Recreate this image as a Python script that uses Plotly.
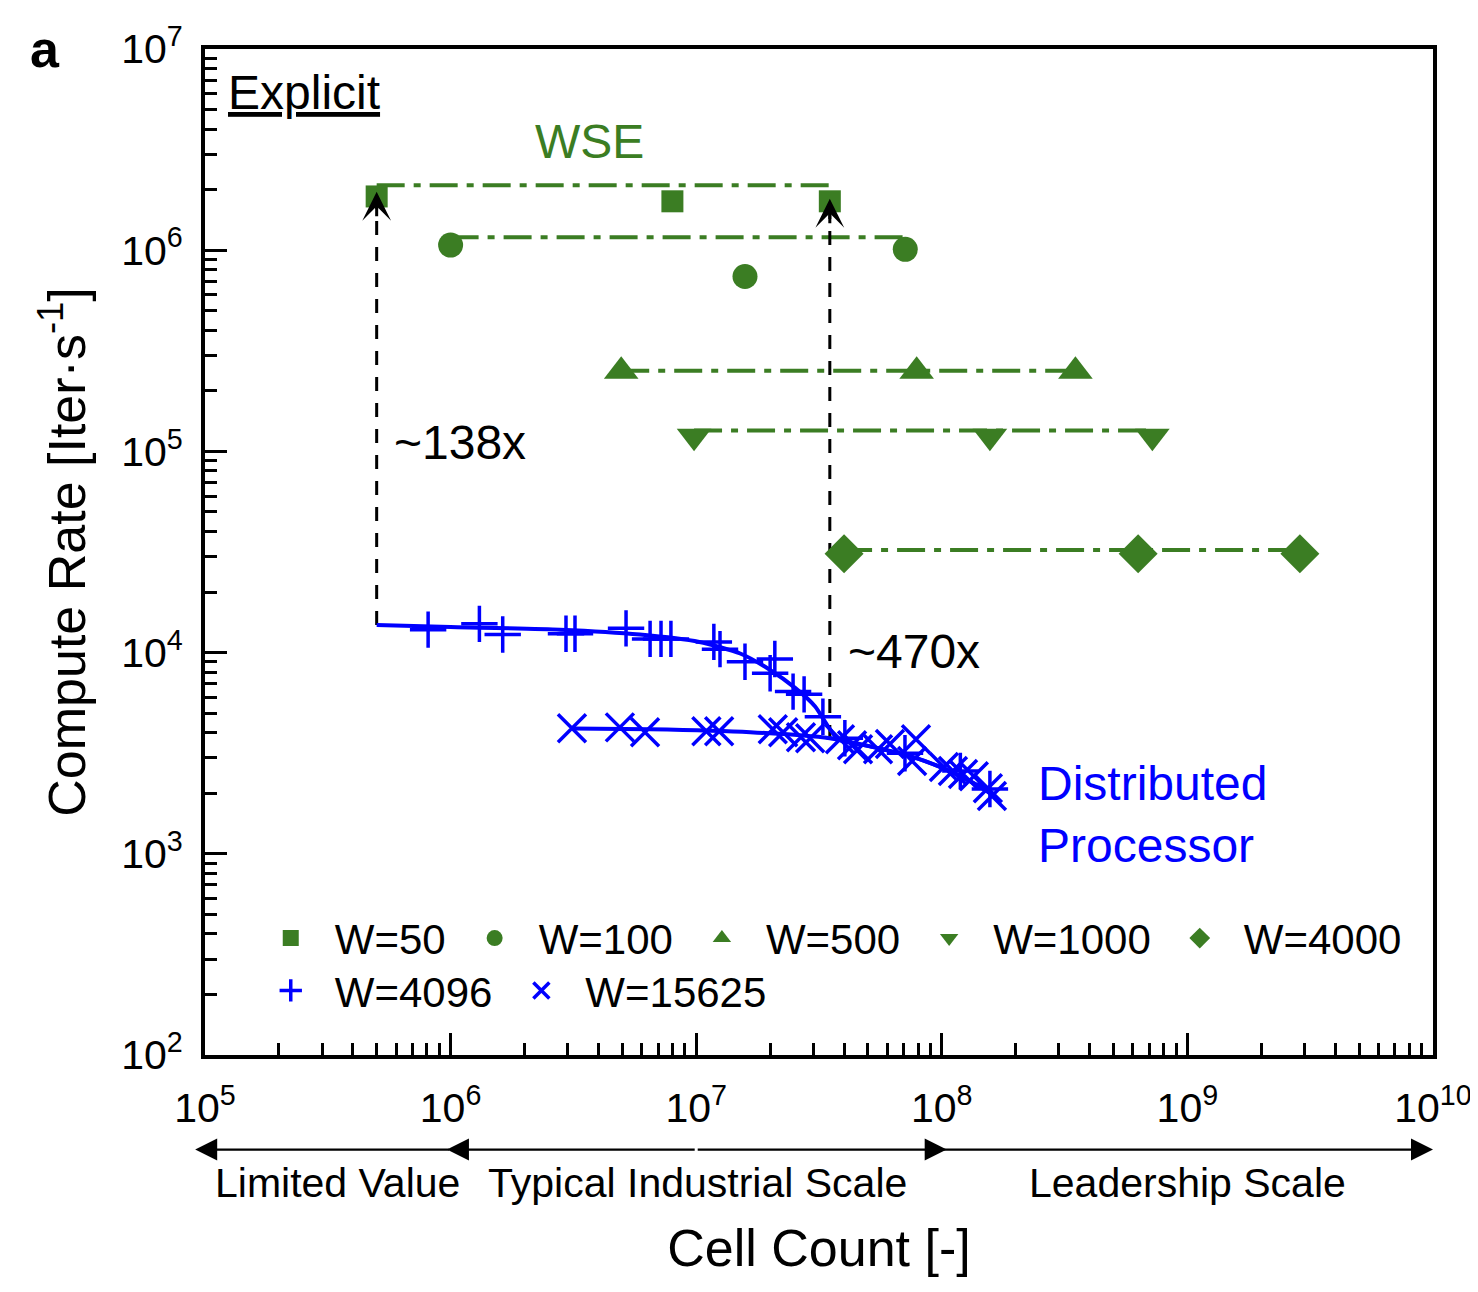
import math

import plotly.graph_objects as go

GREEN = "#3B7D23"
BLUE = "#0000FF"
FONT = "Liberation Sans, Arial, sans-serif"

# --- WSE (green) series: cell count vs compute rate
w50_cells = [5.0e5, 8.0e6, 3.5e7]
w50_rate = [1.85e6, 1.75e6, 1.75e6]
w50_level = 2.1e6

w100_cells = [1.0e6, 1.58e7, 7.1e7]
w100_rate = [1.06e6, 7.4e5, 1.01e6]
w100_level = 1.16e6

w500_cells = [4.95e6, 7.9e7, 3.5e8]
w500_rate = [2.5e5, 2.5e5, 2.5e5]
w500_level = 2.52e5

w1000_cells = [9.8e6, 1.57e8, 7.2e8]
w1000_rate = [1.19e5, 1.19e5, 1.19e5]
w1000_level = 1.27e5

w4000_cells = [4.0e7, 6.3e8, 2.87e9]
w4000_rate = [3.1e4, 3.1e4, 3.1e4]
w4000_level = 3.24e4

# --- distributed processor (blue) series
w4096_cells = [8.1e5, 1.31e6, 1.63e6, 2.95e6, 3.21e6, 5.18e6, 6.49e6, 7.19e6,
               7.89e6, 1.18e7, 1.25e7, 1.58e7, 2.0e7, 2.09e7, 2.48e7, 2.75e7,
               3.28e7, 4.03e7, 7.08e7, 1.19e8, 1.57e8]
w4096_rate = [1.30e4, 1.39e4, 1.23e4, 1.24e4, 1.24e4, 1.32e4, 1.17e4, 1.17e4,
              1.17e4, 1.13e4, 1.04e4, 9.0e3, 7.9e3, 9.3e3, 6.4e3, 6.2e3,
              4.8e3, 3.75e3, 3.16e3, 2.58e3, 2.10e3]
w4096_fit_cells = [5.0e5, 1.0e6, 2.79e6, 5.9e6, 1.03e7, 1.51e7, 2.0e7, 2.52e7,
                   3.05e7, 3.44e7, 3.78e7, 5.1e7, 7.43e7, 1.03e8, 1.30e8, 1.6e8]
w4096_fit_rate = [1.37e4, 1.34e4, 1.30e4, 1.23e4, 1.13e4, 9.9e3, 8.2e3, 6.7e3,
                  5.4e3, 4.3e3, 3.71e3, 3.42e3, 3.06e3, 2.64e3, 2.30e3, 1.98e3]

w15625_cells = [3.12e6, 4.89e6, 6.19e6, 1.10e7, 1.24e7, 2.05e7, 2.26e7, 2.67e7,
                2.91e7, 3.85e7, 4.31e7, 4.56e7, 5.50e7, 6.15e7, 7.85e7, 7.57e7,
                1.02e8, 1.11e8, 1.22e8, 1.35e8, 1.54e8, 1.60e8]
w15625_rate = [4.21e3, 4.25e3, 4.02e3, 4.06e3, 4.06e3, 4.16e3, 4.02e3, 3.80e3,
               3.75e3, 3.71e3, 3.46e3, 3.31e3, 3.31e3, 3.51e3, 3.71e3, 2.89e3,
               2.70e3, 2.58e3, 2.49e3, 2.43e3, 2.12e3, 1.94e3]
w15625_fit_cells = [3.12e6, 6.49e6, 1.66e7, 3.5e7, 5.1e7, 7.43e7, 1.03e8, 1.30e8, 1.6e8]
w15625_fit_rate = [4.2e3, 4.16e3, 4.02e3, 3.75e3, 3.42e3, 3.06e3, 2.64e3, 2.30e3, 1.98e3]

# speed-up arrows: (cell count, tail rate, head rate, label)
speedups = [(5.0e5, 1.37e4, 1.95e6, "~138x"), (3.5e7, 3.72e3, 1.80e6, "~470x")]

x_tick_vals = [1e5, 1e6, 1e7, 1e8, 1e9, 1e10]
x_tick_text = ["10<sup>5</sup>", "10<sup>6</sup>", "10<sup>7</sup>", "10<sup>8</sup>",
               "10<sup>9</sup>", "10<sup>10</sup>"]
y_tick_vals = [1e2, 1e3, 1e4, 1e5, 1e6, 1e7]
y_tick_text = ["10<sup>2</sup>", "10<sup>3</sup>", "10<sup>4</sup>", "10<sup>5</sup>",
               "10<sup>6</sup>", "10<sup>7</sup>"]
x_minor = [k * 10 ** e for e in range(5, 10) for k in range(2, 10)]
y_minor = [k * 10 ** e for e in range(2, 7) for k in range(2, 10)]

# scale bands under the x axis: (tail, head) in log10 cell count
bands = [(6, 4.96), (7, 5.985), (7, 8.02), (8, 10)]
band_labels = ["Limited Value", "Typical Industrial Scale", "Leadership Scale"]
band_label_x = [0.108, 0.4007, 0.800]

fig = go.Figure()

wse = [
    ("W=50", w50_cells, w50_rate, w50_level, "square", 22),
    ("W=100", w100_cells, w100_rate, w100_level, "circle", 25),
    ("W=500", w500_cells, w500_rate, w500_level, "triangle-up", 30),
    ("W=1000", w1000_cells, w1000_rate, w1000_level, "triangle-down", 30),
    ("W=4000", w4000_cells, w4000_rate, w4000_level, "diamond", 30),
]
# green dash-dot levels
for name, cells, rate, level, sym, size in wse:
    fig.add_trace(go.Scatter(x=[cells[0], cells[-1]], y=[level, level], mode="lines",
                             line=dict(color=GREEN, width=4, dash="28px,9px,7px,9px"),
                             showlegend=False, hoverinfo="skip"))

# speed-up dashed shafts
for cx, y0, y1, _ in speedups:
    fig.add_trace(go.Scatter(x=[cx, cx], y=[y0, y1], mode="lines",
                             line=dict(color="black", width=3, dash="14px,12px"),
                             showlegend=False, hoverinfo="skip"))

# blue fit curves
for fx, fy in [(w4096_fit_cells, w4096_fit_rate), (w15625_fit_cells, w15625_fit_rate)]:
    fig.add_trace(go.Scatter(x=fx, y=fy, mode="lines",
                             line=dict(color=BLUE, width=4, shape="spline", smoothing=0.6),
                             showlegend=False, hoverinfo="skip"))

for name, cells, rate, level, sym, size in wse:
    fig.add_trace(go.Scatter(x=cells, y=rate, mode="markers", name=name,
                             marker=dict(symbol=sym, size=size, color=GREEN),
                             legend="legend"))

fig.add_trace(go.Scatter(x=w4096_cells, y=w4096_rate, mode="markers", name="W=4096",
                         marker=dict(symbol="cross-thin", size=26,
                                     line=dict(color=BLUE, width=3.5)),
                         legend="legend2"))
fig.add_trace(go.Scatter(x=w15625_cells, y=w15625_rate, mode="markers", name="W=15625",
                         marker=dict(symbol="x-thin", size=28,
                                     line=dict(color=BLUE, width=3.5)),
                         legend="legend2"))

annotations = []
for cx, y0, y1, label in speedups:
    annotations.append(dict(x=math.log10(cx), y=math.log10(y1), xref="x", yref="y",
                            ax=0, ay=26, axref="pixel", ayref="pixel", text="",
                            showarrow=True, arrowhead=3, arrowsize=1.6, arrowwidth=3,
                            arrowcolor="black"))

text_font = dict(family=FONT, size=48, color="black")
annotations += [
    dict(x=-0.13, y=1.0, xref="paper", yref="paper", text="<b>a</b>", showarrow=False,
         font=dict(family=FONT, size=52, color="black"), xanchor="center", yanchor="middle"),
    dict(x=0.017, y=0.957, xref="paper", yref="paper", text="<u>Explicit</u>",
         showarrow=False, font=text_font, xanchor="left", yanchor="middle"),
    dict(x=0.3135, y=0.908, xref="paper", yref="paper", text="WSE", showarrow=False,
         font=dict(family=FONT, size=48, color=GREEN), xanchor="center", yanchor="middle"),
    dict(x=0.152, y=0.609, xref="paper", yref="paper", text=speedups[0][3],
         showarrow=False, font=text_font, xanchor="left", yanchor="middle"),
    dict(x=0.522, y=0.401, xref="paper", yref="paper", text=speedups[1][3],
         showarrow=False, font=text_font, xanchor="left", yanchor="middle"),
    dict(x=0.677, y=0.239, xref="paper", yref="paper", text="Distributed<br>Processor",
         showarrow=False, font=dict(family=FONT, size=48, color=BLUE),
         xanchor="left", yanchor="middle", align="left"),
]

band_y = -0.094
for tail, head in bands:
    annotations.append(dict(x=head, y=band_y, xref="x", yref="paper", ax=tail, ay=0,
                            axref="x", ayref="pixel", text="", showarrow=True,
                            arrowhead=2, arrowsize=2.0, arrowwidth=2.2, arrowcolor="black"))
for label, xc in zip(band_labels, band_label_x):
    annotations.append(dict(x=xc, y=-0.127, xref="paper", yref="paper", text=label,
                            showarrow=False, font=dict(family=FONT, size=41, color="black"),
                            xanchor="center", yanchor="middle"))

axis_common = dict(type="log", ticks="inside", ticklen=22, tickwidth=3, tickcolor="black",
                   showline=True, linewidth=4, linecolor="black", mirror=True,
                   showgrid=False, zeroline=False,
                   tickfont=dict(family=FONT, size=41, color="black"))

legend_font = dict(family=FONT, size=42, color="black")

fig.update_layout(
    width=1478, height=1292,
    margin=dict(l=197, r=53, t=37, b=245),
    paper_bgcolor="white", plot_bgcolor="white",
    font=dict(family=FONT, color="black"),
    xaxis=dict(axis_common, range=[5, 10], tickvals=x_tick_vals, ticktext=x_tick_text,
               ticklabelstandoff=14,
               minor=dict(tickvals=x_minor, ticks="inside", ticklen=12, tickwidth=3,
                          tickcolor="black", showgrid=False),
               title=dict(text="Cell Count [-]", font=dict(family=FONT, size=52),
                          standoff=100)),
    yaxis=dict(axis_common, range=[2, 7], tickvals=y_tick_vals, ticktext=y_tick_text,
               ticklabelstandoff=10,
               minor=dict(tickvals=y_minor, ticks="inside", ticklen=12, tickwidth=3,
                          tickcolor="black", showgrid=False),
               title=dict(text="Compute Rate [Iter·s<sup>-1</sup>]",
                          font=dict(family=FONT, size=52), standoff=20)),
    legend=dict(orientation="h", x=0.034, y=0.116, xanchor="left", yanchor="middle",
                font=legend_font, bgcolor="rgba(0,0,0,0)",
                itemwidth=78, itemsizing="trace"),
    legend2=dict(orientation="h", x=0.034, y=0.064, xanchor="left", yanchor="middle",
                 font=legend_font, bgcolor="rgba(0,0,0,0)",
                 itemwidth=78, itemsizing="trace"),
    annotations=annotations,
    showlegend=True,
)

fig.write_html("out.html")
